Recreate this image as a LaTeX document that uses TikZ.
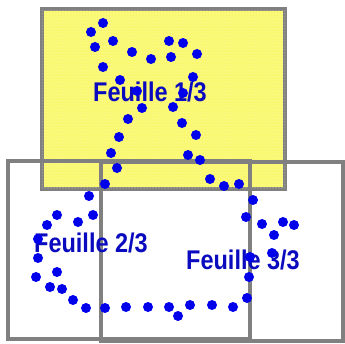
\documentclass[tikz,border=0pt]{standalone}
\usepackage{fontspec}
\setmainfont{Liberation Sans}
\usepackage{tikz}
\usetikzlibrary{patterns, positioning}
\definecolor{sheetgray}{RGB}{128,128,128}
\definecolor{sheetyellow}{RGB}{250,248,112}
\definecolor{sheetdots}{RGB}{255,255,205}
\definecolor{pathblue}{RGB}{0,0,235}
\definecolor{labelblue}{RGB}{10,10,190}
\newcommand{\tallfeuille}[1]{\scalebox{1}[1.15]{#1}}
\tikzset{
  % Sheets of paper
  sheet/.style={
    rectangle, draw=sheetgray, line width=4pt,
    minimum width=242pt, minimum height=178pt, inner sep=0pt,
  },
  % Sheet labels
  sheetlabel/.style={
    font=\fontsize{23.5}{24}\selectfont\bfseries, text=labelblue, inner sep=0pt,
  },
  % Dots of the path
  pathdot/.style={fill=pathblue, draw=none},
}
\begin{document}
\begin{tikzpicture}[x=1pt, y=-1pt]
  \useasboundingbox (0,0) rectangle (345,344);

  % First sheet (yellow)
  \node[sheet, fill=sheetyellow, minimum width=243pt, minimum height=180pt,
        postaction={pattern=dots, pattern color=sheetdots}] (sheet1) at (163.5,99.5) {};

  % Second and third sheets
  \node[sheet] (sheet2) at (128.5,250) {};
  \node[sheet] (sheet3) at (222,251.5) {};

  % Labels
  \node[sheetlabel] (label1) at (150,92) {\tallfeuille{Feuille 1/3}};
  \node[sheetlabel] (label2) at (91,243) {\tallfeuille{Feuille 2/3}};
  \node[sheetlabel] (label3) at (243,260) {\tallfeuille{Feuille 3/3}};

  % Dotted path
  \foreach \px/\py in {103/23, 91/32, 95/47, 113/41, 132/52, 151/59, 169/41, 183/43,
      171/57, 197/54, 103/67, 120/80, 137/91, 142/108, 128/119, 119/137, 111/153,
      117/168, 193/77, 183/93, 173/107, 182/123, 196/135, 188/155, 200/160,
      105/184, 210/179, 224/186, 239/184, 89/196, 93/215, 78/222, 57/215, 47/225,
      38/239, 38/258, 36/277, 57/272, 50/287, 62/289, 73/300, 86/308, 105/308,
      126/307, 148/307, 169/307, 178/316, 190/305, 212/305, 233/307, 247/298,
      249/277, 250/257, 253/200, 246/217, 262/224, 274/235, 283/222, 294/225,
      272/253}
    \fill[pathdot] (\px,\py) circle (5pt);

\end{tikzpicture}
\end{document}
